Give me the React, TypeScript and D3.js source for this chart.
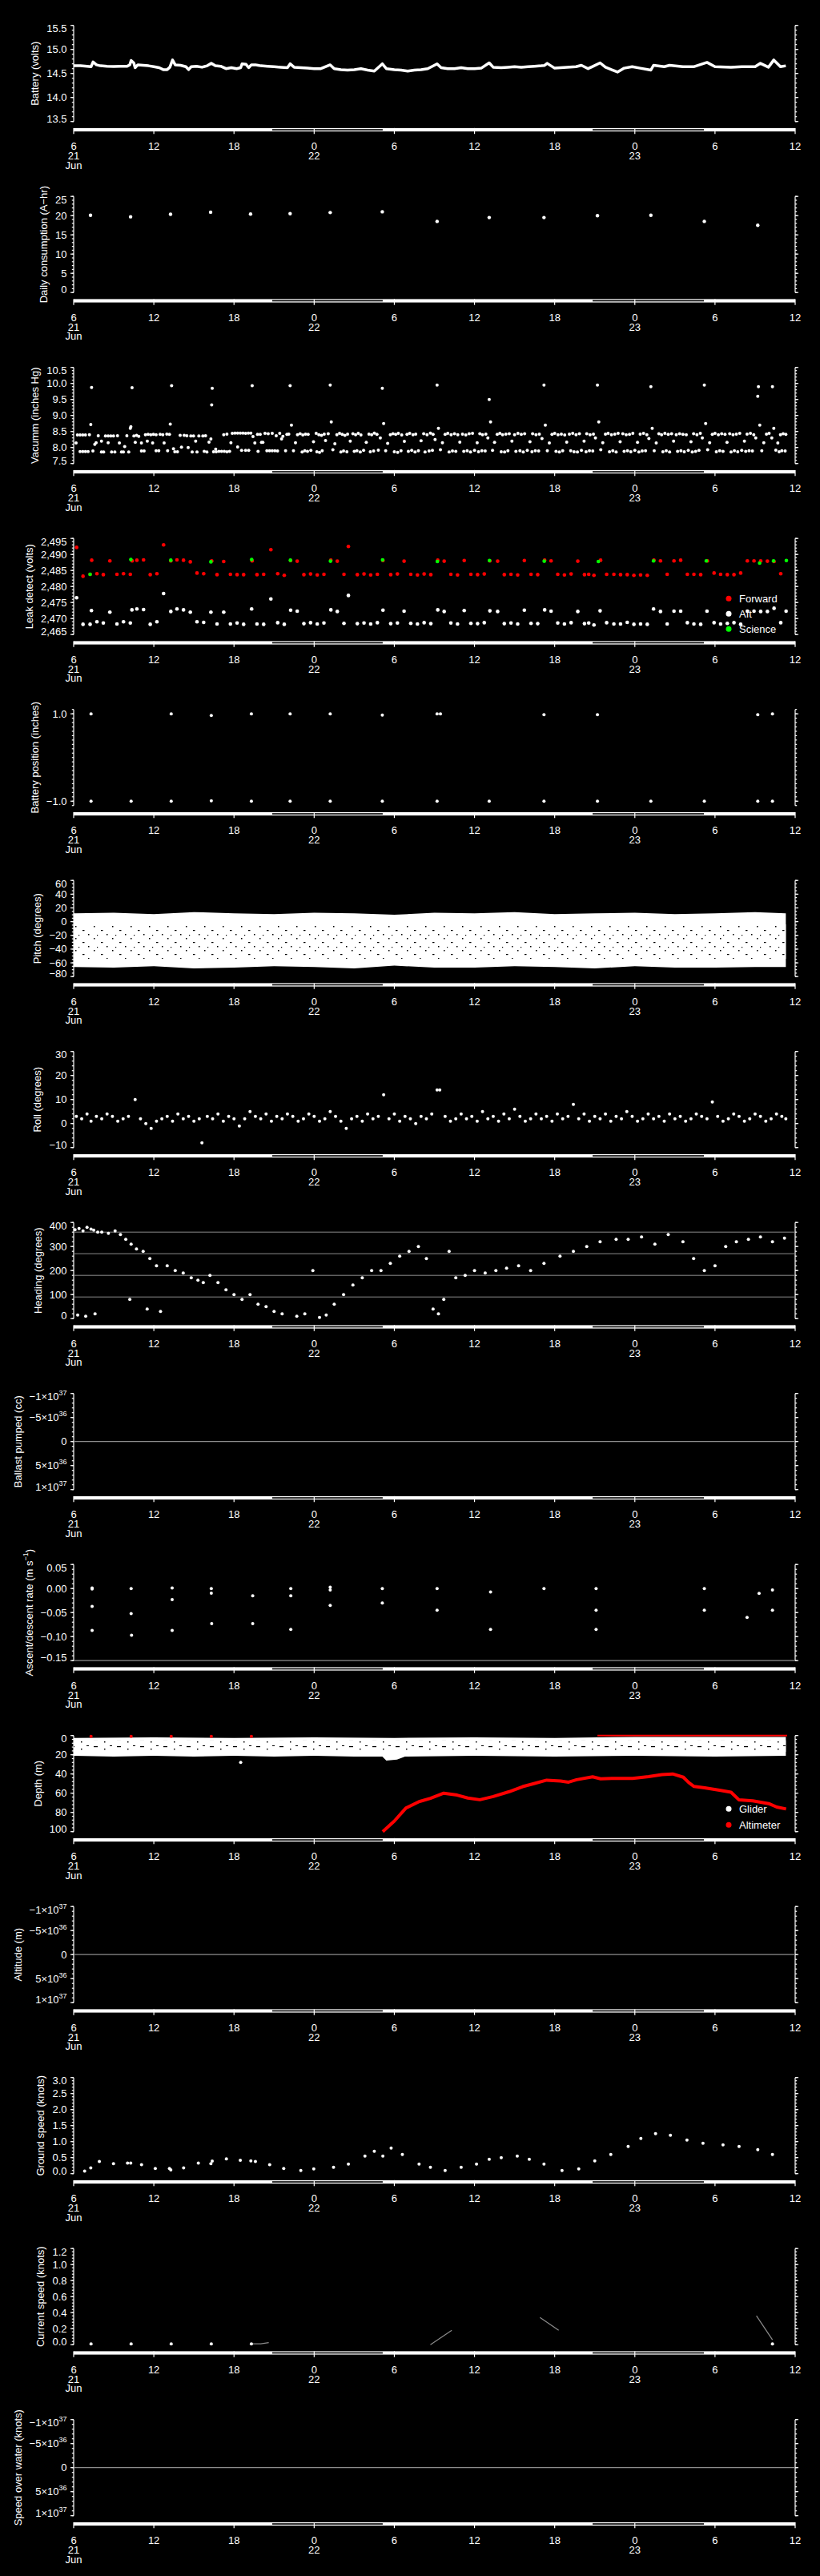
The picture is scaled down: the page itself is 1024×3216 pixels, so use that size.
import React from "react";
import * as d3 from "d3";

document.body.style.margin = "0";
document.body.style.background = "#000";

const FONT = "'Liberation Sans', Arial, Helvetica, sans-serif";
const FS = 13;

// ---------- time axis (hours since 21 Jun 00:00) ----------
const timeDomain = [6, 60];
const timeTicks = [6, 12, 18, 24, 30, 36, 42, 48, 54, 60];
const timeTickLabels = ["6", "12", "18", "0", "6", "12", "18", "0", "6", "12"];
const dayLabelHours = [6, 24, 48];
const dayLabels = ["21", "22", "23"];
const monthLabel = "Jun";
const nightSpans = [[20.86, 29.13], [44.84, 53.17]];

// ---------- data ----------
const batteryVolts = [
  [6, 14.66], [6.5, 14.66], [7, 14.65], [7.3, 14.64], [7.45, 14.74], [7.7, 14.68], [8, 14.66], [8.5, 14.65], [9, 14.645], [9.5, 14.65], [10, 14.65], [10.2, 14.68], [10.3, 14.77], [10.5, 14.72], [10.6, 14.62], [10.8, 14.68], [11.2, 14.67], [11.6, 14.66], [12, 14.64], [12.4, 14.62], [12.7, 14.58], [13, 14.58], [13.2, 14.63], [13.4, 14.78], [13.6, 14.68], [14, 14.67], [14.4, 14.64], [14.6, 14.58], [14.8, 14.64], [15.2, 14.65], [15.6, 14.63], [16, 14.66], [16.3, 14.71], [16.6, 14.66], [17, 14.65], [17.4, 14.6], [17.8, 14.62], [18.2, 14.6], [18.5, 14.62], [18.6, 14.7], [18.9, 14.69], [19.1, 14.62], [19.3, 14.68], [19.6, 14.68], [19.8, 14.67], [20, 14.66], [20.5, 14.65], [21, 14.64], [21.5, 14.63], [22, 14.62],
  [22.2, 14.7], [22.5, 14.63], [23, 14.62], [23.5, 14.61], [24, 14.6], [24.5, 14.6], [25.2, 14.68], [25.5, 14.6], [26, 14.58], [26.5, 14.57], [27, 14.58], [27.5, 14.6], [28, 14.57], [28.5, 14.55], [29.1, 14.7], [29.4, 14.6], [30, 14.58], [30.5, 14.57], [31, 14.55], [31.5, 14.57], [32, 14.58], [32.5, 14.6], [33.2, 14.7], [33.5, 14.62], [34, 14.6], [34.5, 14.6], [35, 14.62], [35.5, 14.6], [36, 14.6], [36.5, 14.61], [37.1, 14.72], [37.4, 14.63], [38, 14.62], [38.5, 14.63], [39, 14.64], [39.5, 14.63], [40, 14.64], [40.5, 14.65], [41, 14.66],
  [41.24, 14.667], [41.44, 14.71], [42.0, 14.61], [43.6, 14.64], [44.0, 14.67], [44.5, 14.6], [44.8, 14.64], [45.4, 14.72], [45.8, 14.63], [46.7, 14.53], [47.2, 14.61], [47.8, 14.64], [48.4, 14.61], [49.2, 14.57], [49.4, 14.67], [50.2, 14.64], [50.6, 14.67], [51.6, 14.64], [52.4, 14.64], [53.4, 14.73], [54.0, 14.64], [55.2, 14.63], [56.0, 14.64], [57.0, 14.64], [57.4, 14.71], [58.0, 14.63], [58.4, 14.78], [58.9, 14.64], [59.3, 14.66],
];

const dailyConsumption = [
  [7.26, 20.1], [10.26, 19.7], [13.25, 20.35], [16.25, 20.9], [19.24, 20.4], [22.2, 20.5], [25.2, 20.8], [29.1, 21], [33.2, 18.5], [37.1, 19.5], [41.2, 19.5], [45.2, 20], [49.2, 20.1], [53.2, 18.5], [57.2, 17.5],
];

const vacuumDay1 = [
  [6.18, 8.14], [6.28, 8.39], [6.48, 8.39], [6.68, 8.39], [6.88, 8.39], [7.18, 8.4], [6.48, 7.875], [6.68, 7.875], [6.88, 7.875], [7.08, 7.875], [7.28, 8.72], [7.34, 9.875], [7.44, 7.89], [7.58, 8.1], [7.68, 8.15], [7.84, 8.37], [8.08, 8.2], [8.08, 7.86], [8.24, 7.86], [8.38, 8.36], [8.58, 8.36], [8.78, 8.36], [8.98, 8.36], [9.28, 8.37], [8.58, 8.15], [8.84, 7.86], [9.08, 7.86], [9.42, 8.14], [9.58, 7.86], [9.72, 7.86], [9.82, 8.03], [9.98, 8.37], [10.12, 7.86], [10.24, 8.6], [10.28, 8.65], [10.37, 9.87], [10.51, 8.36], [10.71, 8.38], [10.87, 8.35], [10.61, 8.16], [11.07, 8.14], [11.07, 7.89], [11.27, 7.89], [11.37, 8.4], [11.57, 8.41], [11.77, 8.4], [11.97, 8.41], [12.17, 8.4], [12.47, 8.41], [12.67, 8.4], [12.97, 8.42], [13.17, 8.41], [11.51, 8.2], [11.91, 8.14], [12.17, 7.9], [12.37, 7.9], [12.77, 8.14], [13.03, 7.9], [13.23, 8.73], [13.33, 9.93], [13.47, 7.96], [13.57, 7.87], [13.77, 7.87], [14.07, 8.01], [13.97, 8.38], [14.27, 8.38], [14.47, 8.37], [14.77, 8.36], [14.97, 8.36], [14.57, 8.0], [14.87, 7.86], [15.23, 7.86], [15.13, 8.2], [15.37, 8.36], [15.67, 8.36], [15.87, 8.37], [15.77, 7.88], [15.97, 7.86], [16.13, 8.17], [16.27, 8.27], [16.33, 9.33], [16.37, 9.85], [16.63, 7.95], [16.47, 7.87], [16.67, 7.87], [16.87, 7.88], [17.07, 7.88], [17.27, 7.88], [17.47, 7.87], [17.67, 7.88], [17.23, 8.4], [17.47, 8.42], [17.77, 8.15], [17.87, 8.44], [18.07, 8.45], [18.27, 8.45], [18.47, 8.45], [18.67, 8.45], [18.87, 8.44], [19.07, 8.45], [19.26, 8.45], [18.27, 8.02], [18.57, 7.91], [18.87, 7.91], [19.1, 7.91], [19.36, 9.93], [19.42, 8.34], [19.56, 8.14], [19.76, 8.41], [19.96, 8.41], [19.8, 7.88], [20.06, 8.16], [20.16, 8.16], [20.32, 8.44], [20.46, 7.9], [20.66, 7.9], [20.86, 7.9], [21.06, 7.9], [21.26, 7.89], [20.56, 8.43], [20.86, 8.44], [21.16, 8.37], [21.42, 8.44], [21.56, 8.27], [21.66, 8.35], [21.86, 7.9], [21.96, 8.41],
];
const vacuumDay2 = [
  [22.1, 8.42], [22.2, 9.93], [22.3, 8.7], [22.45, 7.9], [22.6, 8.15], [22.75, 8.4], [22.95, 8.43], [23.15, 8.39], [23.35, 8.42], [23.55, 8.41], [23.1, 7.86], [23.3, 7.9], [23.5, 7.88], [23.75, 7.91], [23.95, 8.18], [24.15, 8.44], [24.35, 8.4], [24.55, 8.38], [24.75, 8.42], [24.2, 7.87], [24.4, 7.85], [24.6, 7.9], [24.85, 8.22], [25.05, 8.43], [25.2, 9.95], [25.28, 8.8], [25.4, 7.93], [25.55, 8.12], [25.7, 8.4], [25.9, 8.44], [26.1, 8.41], [26.3, 8.38], [26.5, 8.42], [26.0, 7.86], [26.2, 7.89], [26.45, 7.87], [26.7, 8.2], [26.9, 8.43], [27.1, 8.4], [27.3, 8.44], [27.5, 8.39], [27.0, 7.88], [27.2, 7.9], [27.45, 7.86], [27.7, 7.91], [27.9, 8.16], [28.1, 8.42], [28.3, 8.4], [28.5, 8.45], [28.7, 8.41], [28.2, 7.87], [28.45, 7.89], [28.8, 7.92], [28.95, 8.3], [29.1, 9.85], [29.2, 8.75], [29.35, 7.9], [29.5, 8.13], [29.7, 8.4], [29.9, 8.43], [30.1, 8.41], [30.3, 8.44], [30.55, 8.39], [30.0, 7.87], [30.25, 7.85], [30.5, 7.9], [30.75, 8.19], [30.95, 8.41], [31.15, 8.44], [31.4, 8.4], [31.6, 8.42], [31.05, 7.88], [31.3, 7.91], [31.55, 7.86], [31.8, 7.9], [32.0, 8.21], [32.2, 8.43], [32.45, 8.4], [32.7, 8.45], [32.9, 8.41], [32.3, 7.86], [32.6, 7.89], [32.85, 7.91], [33.05, 8.25], [33.2, 9.95], [33.3, 8.6], [33.45, 7.93], [33.6, 8.15], [33.8, 8.41], [34.0, 8.44], [34.25, 8.4], [34.5, 8.43], [34.75, 8.4], [34.1, 7.86], [34.35, 7.89], [34.6, 7.88], [34.9, 8.17], [35.1, 8.42], [35.35, 8.39], [35.6, 8.43], [35.85, 8.44], [35.2, 7.88], [35.45, 7.9], [35.7, 7.86], [36.0, 7.91], [36.2, 8.15], [36.4, 8.43], [36.6, 8.4], [36.85, 8.42], [36.3, 7.87], [36.55, 7.9], [36.8, 7.89], [37.0, 8.3], [37.1, 9.5], [37.2, 8.8], [37.35, 7.91], [37.5, 8.16], [37.7, 8.41], [37.9, 8.44], [38.1, 8.4], [38.35, 8.42], [38.6, 8.43], [38.0, 7.87], [38.25, 7.86], [38.5, 7.9], [38.8, 8.2], [39.0, 8.4], [39.25, 8.44], [39.5, 8.41], [39.75, 8.43], [39.1, 7.88], [39.4, 7.9], [39.65, 7.86], [39.95, 7.91], [40.15, 8.18], [40.35, 8.43], [40.6, 8.4], [40.85, 8.42], [40.3, 7.87], [40.55, 7.9], [40.8, 7.89], [41.05, 8.28], [41.2, 9.95], [41.3, 8.7], [41.45, 7.9], [41.6, 8.14], [41.8, 8.41], [42.0, 8.44], [42.25, 8.4], [42.5, 8.42], [42.75, 8.39], [42.1, 7.88], [42.35, 7.86], [42.6, 7.9], [42.9, 8.17], [43.1, 8.42], [43.35, 8.44], [43.6, 8.4], [43.85, 8.43], [43.2, 7.9], [43.45, 7.87], [43.7, 7.86], [44.0, 7.91], [44.2, 8.2], [44.4, 8.43], [44.65, 8.4], [44.9, 8.42], [44.35, 7.87], [44.6, 7.9], [44.85, 7.89],
];
const vacuumDay3 = [
  [45.05, 8.3], [45.2, 9.95], [45.3, 8.8], [45.45, 7.93], [45.6, 8.15], [45.8, 8.42], [46.0, 8.44], [46.25, 8.4], [46.5, 8.42], [46.75, 8.44], [46.1, 7.87], [46.35, 7.9], [46.6, 7.86], [46.9, 8.18], [47.1, 8.43], [47.35, 8.4], [47.6, 8.41], [47.85, 8.44], [47.2, 7.88], [47.45, 7.9], [47.7, 7.87], [48.0, 7.91], [48.2, 8.16], [48.4, 8.42], [48.65, 8.44], [48.9, 8.4], [48.3, 7.86], [48.55, 7.89], [48.8, 7.9], [49.05, 8.28], [49.2, 9.9], [49.3, 8.6], [49.45, 7.9], [49.6, 8.14], [49.8, 8.43], [50.0, 8.4], [50.25, 8.44], [50.5, 8.41], [50.75, 8.43], [50.1, 7.87], [50.35, 7.9], [50.6, 7.86], [50.9, 8.2], [51.1, 8.4], [51.35, 8.43], [51.6, 8.41], [51.85, 8.4], [51.2, 7.88], [51.45, 7.9], [51.7, 7.87], [52.0, 7.91], [52.2, 8.18], [52.4, 8.43], [52.65, 8.4], [52.9, 8.44], [52.3, 7.86], [52.55, 7.88], [52.8, 7.91], [53.05, 8.3], [53.2, 9.95], [53.3, 8.75], [53.45, 7.93], [53.6, 8.15], [53.8, 8.41], [54.0, 8.44], [54.25, 8.4], [54.5, 8.43], [54.75, 8.41], [54.1, 7.87], [54.35, 7.9], [54.6, 7.88], [54.9, 8.16], [55.1, 8.43], [55.35, 8.4], [55.6, 8.42], [55.85, 8.44], [55.2, 7.86], [55.45, 7.9], [55.7, 7.87], [56.0, 7.91], [56.2, 8.2], [56.4, 8.42], [56.65, 8.44], [56.9, 8.4], [56.3, 7.88], [56.55, 7.9], [56.8, 7.89], [57.05, 8.3], [57.2, 9.6], [57.25, 9.9], [57.35, 8.7], [57.5, 7.9], [57.65, 8.15], [57.85, 8.42], [58.05, 8.44], [58.25, 8.3], [58.3, 9.9], [58.4, 8.6], [58.55, 7.92], [58.7, 8.14], [58.9, 8.4], [59.1, 8.43], [59.3, 8.41], [58.8, 7.87], [59.0, 7.9], [59.25, 7.89],
];

const leakForward = [
  [6.22, 2.4922], [6.7, 2.4832], [7.35, 2.4882], [7.23, 2.4838], [7.74, 2.484], [8.22, 2.4837], [8.71, 2.488], [9.24, 2.4838], [9.73, 2.484], [10.24, 2.4838], [10.38, 2.488], [10.73, 2.4882], [11.23, 2.4883], [11.73, 2.4837], [12.23, 2.484], [12.73, 2.493], [13.27, 2.488], [13.73, 2.4883], [14.22, 2.4882], [14.73, 2.4877], [15.23, 2.4842], [15.73, 2.484], [16.33, 2.488], [16.73, 2.4837], [17.23, 2.4878], [17.73, 2.4838], [18.23, 2.4837], [18.72, 2.4837], [19.36, 2.488], [19.72, 2.4837], [20.22, 2.4838], [20.76, 2.4915], [21.27, 2.484], [21.76, 2.4835],
  [22.24, 2.4881], [22.73, 2.4879], [23.23, 2.4837], [23.73, 2.4839], [24.23, 2.4836], [24.73, 2.4838], [25.25, 2.4882], [25.73, 2.4879], [26.23, 2.4838], [26.56, 2.4925], [27.23, 2.4837], [27.73, 2.4839], [28.23, 2.4836], [28.73, 2.4838], [29.15, 2.4881], [29.73, 2.4837], [30.23, 2.4839], [30.73, 2.4879], [31.23, 2.4838], [31.73, 2.4836], [32.23, 2.4839], [32.73, 2.4837], [33.25, 2.4882], [33.73, 2.4879], [34.23, 2.4838], [34.73, 2.4836], [35.23, 2.4881], [35.73, 2.4838], [36.23, 2.4837], [36.73, 2.4839], [37.15, 2.488], [37.73, 2.4879], [38.23, 2.4837], [38.73, 2.4838], [39.23, 2.4836], [39.73, 2.4881], [40.23, 2.4838], [40.73, 2.4837], [41.25, 2.4882], [41.73, 2.488], [42.23, 2.4838], [42.73, 2.4836], [43.23, 2.4839], [43.73, 2.4879], [44.23, 2.4837], [44.55, 2.4838],
  [44.94, 2.4835], [45.44, 2.4882], [45.89, 2.4838], [46.43, 2.4838], [46.93, 2.4837], [47.43, 2.4837], [47.93, 2.4835], [48.43, 2.4836], [48.93, 2.4835], [49.43, 2.4882], [49.92, 2.488], [50.42, 2.4838], [50.93, 2.488], [51.43, 2.4882], [51.93, 2.4838], [52.42, 2.4838], [52.93, 2.4837], [53.43, 2.488], [53.93, 2.4842], [54.42, 2.4838], [54.92, 2.4837], [55.42, 2.4837], [55.92, 2.4842], [56.42, 2.488], [56.92, 2.488], [57.42, 2.488], [57.92, 2.4879], [58.42, 2.4878], [58.92, 2.484],
];
const leakAft = [
  [6.22, 2.4765], [6.7, 2.4682], [7.23, 2.4682], [7.33, 2.4725], [7.74, 2.469], [8.22, 2.4686], [8.71, 2.472], [9.24, 2.4683], [9.73, 2.469], [10.24, 2.4686], [10.36, 2.4727], [10.73, 2.473], [11.23, 2.4728], [11.73, 2.4682], [12.23, 2.469], [12.73, 2.4778], [13.27, 2.4722], [13.73, 2.473], [14.22, 2.4727], [14.73, 2.472], [15.23, 2.469], [15.73, 2.4688], [16.27, 2.472], [16.73, 2.4683], [17.23, 2.472], [17.73, 2.4683], [18.23, 2.4686], [18.72, 2.4682], [19.32, 2.473], [19.72, 2.4683], [20.22, 2.4682], [20.76, 2.4761], [21.27, 2.4687], [21.76, 2.4682],
  [22.24, 2.4726], [22.73, 2.4723], [23.23, 2.4684], [23.73, 2.4687], [24.23, 2.4683], [24.73, 2.4686], [25.25, 2.4727], [25.73, 2.4722], [26.23, 2.4685], [26.56, 2.4772], [27.23, 2.4684], [27.73, 2.4686], [28.23, 2.4683], [28.73, 2.4687], [29.15, 2.4726], [29.73, 2.4684], [30.23, 2.4686], [30.73, 2.4723], [31.23, 2.4685], [31.73, 2.4683], [32.23, 2.4687], [32.73, 2.4684], [33.25, 2.4727], [33.73, 2.4722], [34.23, 2.4686], [34.73, 2.4683], [35.23, 2.4725], [35.73, 2.4685], [36.23, 2.4684], [36.73, 2.4687], [37.15, 2.4724], [37.73, 2.4722], [38.23, 2.4684], [38.73, 2.4686], [39.23, 2.4683], [39.73, 2.4726], [40.23, 2.4685], [40.73, 2.4684], [41.25, 2.4727], [41.73, 2.4723], [42.23, 2.4686], [42.73, 2.4683], [43.23, 2.4687], [43.73, 2.4722], [44.23, 2.4684], [44.55, 2.4686],
  [44.94, 2.468], [45.4, 2.4724], [45.89, 2.4687], [46.43, 2.4683], [46.93, 2.4683], [47.43, 2.4688], [47.93, 2.4682], [48.43, 2.4683], [48.93, 2.4682], [49.4, 2.473], [49.92, 2.4722], [50.42, 2.4683], [50.93, 2.4723], [51.43, 2.4723], [51.93, 2.4687], [52.42, 2.4683], [52.93, 2.4682], [53.4, 2.4723], [53.93, 2.4687], [54.42, 2.4683], [54.92, 2.4685], [55.42, 2.4687], [55.92, 2.4682], [56.42, 2.4723], [56.92, 2.4723], [57.42, 2.4722], [57.92, 2.4722], [58.42, 2.4732], [58.92, 2.4687], [59.32, 2.4723],
];
const leakScience = [
  [7.23, 2.4838], [10.28, 2.4884], [13.27, 2.4882], [16.27, 2.4877], [19.32, 2.4884], [22.22, 2.4882], [25.22, 2.4879], [29.12, 2.4883], [33.22, 2.4878], [37.12, 2.4881], [41.22, 2.4879], [45.27, 2.4878], [49.4, 2.488], [53.35, 2.488], [57.34, 2.4873], [58.38, 2.488], [59.34, 2.4881],
];

const batteryPosition = [
  [7.3, 1.0], [13.3, 1.0], [16.3, 0.96], [19.3, 1.0], [22.2, 1.0], [25.2, 1.0], [29.1, 0.97], [33.2, 1.0], [33.45, 1.0], [41.2, 0.98], [45.2, 0.98], [57.2, 0.98], [58.3, 1.0],
  [7.3, -1.0], [10.3, -1.0], [13.3, -1.0], [16.3, -0.99], [19.3, -1.0], [22.2, -1.0], [25.2, -1.0], [29.1, -1.0], [33.2, -1.0], [37.1, -1.0], [41.2, -1.0], [45.2, -1.0], [49.2, -1.0], [53.2, -1.0], [57.2, -1.0], [58.3, -1.0],
];

const pitchUpper = [[6, 12], [9, 13], [12, 11], [15, 14], [18, 12], [21, 11], [24, 13], [27, 12], [30, 10], [33, 13], [36, 12], [39, 14], [42, 11], [45, 12], [48, 13], [51, 11], [54, 12], [57, 14], [59.3, 12]];
const pitchLower = [[6, -66], [9, -67], [12, -65], [15, -68], [18, -67], [21, -65], [24, -66], [27, -68], [30, -64], [33, -67], [36, -67], [39, -65], [42, -66], [45, -68], [48, -65], [51, -67], [54, -67], [57, -66], [59.3, -66]];
const pitchSpeckTop = [[6, -4], [59.3, -4]];
const pitchSpeckBottom = [[6, -54], [59.3, -54]];

const roll = [
  [6.2, 3], [6.6, 2], [7.0, 4], [7.3, 1], [7.7, 3], [8.1, 2], [8.5, 4], [8.9, 3], [9.3, 1], [9.7, 2], [10.1, 3], [10.6, 10], [11.0, 2], [11.4, 0], [11.8, -2], [12.2, 1], [12.6, 2], [13.0, 3], [13.4, 1], [13.8, 4], [14.2, 2], [14.6, 3], [15.0, 1], [15.4, 2], [15.6, -8], [16.0, 3], [16.4, 2], [16.8, 4], [17.2, 1], [17.6, 3], [18.0, 2], [18.4, -1], [18.8, 2], [19.2, 5], [19.6, 3], [20.0, 2], [20.4, 4], [20.8, 1], [21.2, 3], [21.6, 2], [22.0, 4], [22.4, 3], [22.8, 1], [23.2, 2], [23.6, 4], [24.0, 3], [24.4, 1], [24.8, 2], [25.2, 5], [25.6, 3], [26.0, 1], [26.4, -2], [26.8, 2], [27.2, 3], [27.6, 1], [28.0, 4], [28.4, 2], [28.8, 3], [29.2, 12], [29.6, 2], [30.0, 4], [30.4, 1], [30.8, 3], [31.2, 2], [31.6, 0], [32.0, 3], [32.4, 2], [32.8, 4], [33.2, 14], [33.4, 14], [33.8, 3], [34.2, 1], [34.6, 2], [35.0, 4], [35.4, 2], [35.8, 3], [36.2, 1], [36.6, 5], [37.0, 2], [37.4, 3], [37.8, 1], [38.2, 4], [38.6, 2], [39.0, 6], [39.4, 3], [39.8, 1], [40.2, 2], [40.6, 4], [41.0, 2], [41.4, 3], [41.8, 1], [42.2, 4], [42.6, 2], [43.0, 3], [43.4, 8], [43.8, 2], [44.2, 4], [44.6, 1], [45.0, 3], [45.4, 2], [45.8, 4], [46.2, 1], [46.6, 3], [47.0, 2], [47.4, 5], [47.8, 3], [48.2, 1], [48.6, 2], [49.0, 4], [49.4, 2], [49.8, 3], [50.2, 1], [50.6, 4], [51.0, 2], [51.4, 3], [51.8, 1], [52.2, 2], [52.6, 4], [53.0, 3], [53.4, 2], [53.8, 9], [54.2, 3], [54.6, 1], [55.0, 2], [55.4, 4], [55.8, 3], [56.2, 1], [56.6, 2], [57.0, 4], [57.4, 3], [57.8, 1], [58.2, 2], [58.6, 4], [59.0, 3], [59.3, 2],
];

const heading = [
  [6.1, 370], [6.4, 375], [6.7, 365], [7.0, 380], [7.3, 372], [7.5, 368], [7.8, 360], [6.3, 15], [6.9, 10], [7.6, 20],
  [8.1, 360], [8.6, 355], [9.1, 365], [9.5, 350], [9.9, 330], [10.3, 310], [10.7, 290], [10.2, 80],
  [11.2, 280], [11.7, 250], [12.2, 220], [11.5, 40], [12.5, 30], [13.0, 220], [13.6, 200], [14.2, 190], [14.8, 170], [15.3, 160], [15.7, 150],
  [16.2, 180], [16.8, 150], [17.4, 120], [18.0, 100], [18.6, 80], [19.2, 100], [19.8, 60], [20.4, 50], [21.0, 30], [21.6, 20],
  [22.7, 10], [23.3, 20], [23.9, 200], [24.4, 5], [24.9, 15], [25.5, 60], [26.2, 100], [26.9, 140], [27.6, 170], [28.3, 200],
  [29.0, 200], [29.7, 230], [30.4, 260], [31.1, 280], [31.8, 300], [32.4, 250], [32.9, 40], [33.3, 20], [33.7, 80], [34.1, 280],
  [34.6, 170], [35.3, 180], [36.0, 200], [36.8, 190], [37.6, 200], [38.4, 210], [39.3, 220], [40.2, 200], [41.2, 230],
  [42.4, 260], [43.4, 280], [44.4, 300], [45.4, 320], [46.6, 330], [47.5, 330], [48.5, 340], [49.5, 310], [50.5, 350], [51.6, 320],
  [52.4, 250], [53.2, 200], [54.0, 220], [54.8, 300], [55.6, 320], [56.5, 330], [57.4, 340], [58.3, 320], [59.2, 335],
];

const ascentRate = [
  [7.38, 0.001], [7.38, -0.001], [7.38, -0.037], [7.38, -0.087], [10.3, 0.0], [10.3, -0.052], [10.33, -0.097], [13.37, 0.001], [13.37, -0.023], [13.37, -0.087], [16.3, 0.0], [16.3, -0.0095], [16.33, -0.073], [19.4, -0.015], [19.4, -0.073],
  [22.25, 0.0], [22.25, -0.015], [22.25, -0.085], [25.2, 0.003], [25.2, -0.003], [25.2, -0.035], [29.1, 0.0], [29.1, -0.03], [33.2, 0.0], [33.2, -0.045], [37.2, -0.007], [37.2, -0.085], [41.2, 0.0], [45.1, 0.0], [45.1, -0.045], [45.1, -0.085], [53.2, 0.0], [53.2, -0.045], [56.4, -0.06], [57.3, -0.01], [58.3, -0.003], [58.3, -0.045],
];

const gliderUpper = [[6, 2.5], [12, 2], [18, 2.5], [24, 2], [30, 2.5], [36, 2], [42, 2.5], [48, 1.5], [54, 1.5], [59.3, 1.5]];
const gliderLower = [[6, 21], [9, 22], [12, 21], [15, 22], [18, 21], [21, 22], [24, 21], [27, 22], [29.1, 22], [29.4, 26], [30.2, 25], [30.8, 22], [36, 21], [42, 22], [48, 21], [54, 22], [59.3, 21]];
const gliderSpeckTop = [[6, 5], [59.3, 5]];
const gliderSpeckBottom = [[6, 17], [59.3, 17]];
const gliderOutliers = [[18.5, 28]];
const altimeter = [
  [29.13, 100], [30.0, 89], [30.86, 75.5], [31.85, 68.8], [32.7, 65.4], [33.7, 60], [34.7, 62], [35.5, 65], [36.4, 66.8], [37.4, 63.5], [38.6, 58.4], [39.6, 53.2], [40.5, 49.8], [41.4, 46.4], [42.44, 47.4], [43.04, 48.5], [43.64, 46], [44.84, 43], [45.44, 45], [46.44, 44.6], [47.83, 44.6], [49.03, 42.8], [50.03, 40.6], [50.83, 40], [51.63, 43.4], [52.03, 48.9], [52.43, 53], [53.23, 54.4], [54.43, 57.2], [55.2, 59], [55.8, 67], [56.82, 68], [57.42, 69.4], [58.02, 70.8], [58.62, 74.4], [59.32, 76.4],
];
const altimeterSurface = [[7.3, 0], [10.3, 0], [13.3, 0], [16.3, 0], [19.3, 0]];
const altimeterZeroSpan = [[45.2, 0], [59.4, 0]];

const groundSpeed = [
  [6.82, 0.08], [7.28, 0.18], [7.92, 0.38], [8.98, 0.31], [10.03, 0.33], [10.27, 0.33], [11.08, 0.28], [12.11, 0.16], [13.17, 0.16], [13.27, 0.12], [14.23, 0.18], [15.33, 0.33], [16.27, 0.31], [16.37, 0.39], [17.43, 0.46], [18.47, 0.42], [19.26, 0.4], [19.6, 0.38], [20.67, 0.28], [21.72, 0.16],
  [23.0, 0.1], [23.97, 0.15], [25.45, 0.2], [26.56, 0.3], [27.8, 0.55], [28.5, 0.7], [29.14, 0.55], [29.76, 0.8], [30.6, 0.6], [31.85, 0.3], [32.7, 0.2], [33.8, 0.1], [35.0, 0.2], [36.15, 0.3], [37.1, 0.45], [38.0, 0.5], [39.2, 0.55], [40.1, 0.45], [41.2, 0.3], [42.55, 0.1], [43.8, 0.15], [45.0, 0.4], [46.2, 0.6], [47.5, 0.85], [48.45, 1.1], [49.55, 1.25], [50.66, 1.2], [51.9, 1.05], [53.1, 0.95], [54.6, 0.9], [55.8, 0.85], [57.2, 0.75], [58.3, 0.6],
];
const currentSpeedDots = [[7.3, 0.01], [10.3, 0.01], [13.3, 0.01], [16.3, 0.01], [19.3, 0.01], [58.3, 0.01]];
const currentSpeedLines = [
  [[19.3, 0.01], [20.0, 0.01], [20.6, 0.025]],
  [[32.7, 0.0], [34.3, 0.18]],
  [[40.9, 0.34], [42.3, 0.18]],
  [[57.1, 0.36], [58.3, 0.06]],
];

// ---------- panel definitions ----------
type Lab = { main: string; sup?: string };
const f1 = (v: number): Lab => ({ main: d3.format(".1f")(v).replace("-", "−") });
const f0 = (v: number): Lab => ({ main: d3.format("d")(v).replace("-", "−") });
const f2 = (v: number): Lab => ({ main: d3.format(".2f")(v).replace("-", "−") });
const fLeak = (v: number): Lab => ({ main: d3.format(".3f")(v).replace(".", ",") });
const fSci = (v: number): Lab => {
  if (v === 0) return { main: "0" };
  const e = Math.floor(Math.log10(Math.abs(v)) + 1e-9);
  const m = Math.round(v / Math.pow(10, e));
  return { main: `${m < 0 ? "−" : ""}${Math.abs(m)}×10`, sup: String(e) };
};

const sciTicks = [-1e37, -5e36, 0, 5e36, 1e37];

const panels = [
  { title: "Battery (volts)", domain: [13.5, 15.5], ticks: [13.5, 14, 14.5, 15, 15.5], minor: 0.1, fmt: f1 },
  { title: "Daily consumption (A−hr)", domain: [0, 25], ticks: [0, 5, 10, 15, 20, 25], minor: 1, fmt: f0 },
  { title: "Vacumm (inches Hg)", domain: [7.5, 10.5], ticks: [7.5, 8, 8.5, 9, 9.5, 10, 10.5], minor: 0.1, fmt: f1 },
  { title: "Leak detect (volts)", domain: [2.465, 2.495], ticks: [2.465, 2.47, 2.475, 2.48, 2.485, 2.49, 2.495], minor: 0.001, fmt: fLeak },
  { title: "Battery position (inches)", domain: [-1.1, 1.1], ticks: [-1, 1], minor: 0.1, fmt: f1 },
  { title: "Pitch (degrees)", domain: [-80, 60], ticks: [-80, -60, -40, -20, 0, 20, 40, 60], minor: 5, fmt: f0 },
  { title: "Roll (degrees)", domain: [-10, 30], ticks: [-10, 0, 10, 20, 30], minor: 2, fmt: f0 },
  { title: "Heading (degrees)", domain: [0, 400], ticks: [0, 100, 200, 300, 400], minor: 20, fmt: f0 },
  { title: "Ballast pumped (cc)", domain: [-1e37, 1e37], reversed: true, ticks: sciTicks, minor: 1e36, fmt: fSci },
  { title: "Ascent/descent rate (m s", titleSup: "−1", titleEnd: ")", domain: [-0.15, 0.05], ticks: [-0.15, -0.1, -0.05, 0, 0.05], minor: 0.01, fmt: f2 },
  { title: "Depth (m)", domain: [0, 100], reversed: true, ticks: [0, 20, 40, 60, 80, 100], minor: 4, fmt: f0 },
  { title: "Altitude (m)", domain: [-1e37, 1e37], reversed: true, ticks: sciTicks, minor: 1e36, fmt: fSci },
  { title: "Ground speed (knots)", domain: [0, 3], ticks: [0, 0.5, 1, 1.5, 2, 2.5, 3], minor: 0.1, fmt: f1 },
  { title: "Current speed (knots)", domain: [0, 1.2], ticks: [0, 0.2, 0.4, 0.6, 0.8, 1, 1.2], minor: 0.04, fmt: f1 },
  { title: "Speed over water (knots)", domain: [-1e37, 1e37], reversed: true, ticks: sciTicks, minor: 1e36, fmt: fSci },
];

// ---------- layout ----------
const LEFT = 92;
const RIGHT = 993;
const TOP0 = 31.7;
const STEP = 213.5;
const PH = 120;

let ctx: CanvasRenderingContext2D | null = null;
function textW(s: string, size = FS) {
  if (!ctx) ctx = document.createElement("canvas").getContext("2d");
  if (!ctx) return s.length * size * 0.55;
  ctx.font = `${size}px ${FONT}`;
  return ctx.measureText(s).width;
}
const labW = (l: Lab) => textW(l.main) + (l.sup ? textW(l.sup, 9) : 0);

const W = "#fff";
const GREY = "#8c8c8c";

function Dots({ data, x, y, r = 2, fill = W }: any) {
  return (
    <g fill={fill}>
      {data.map((d: number[], k: number) => (
        <circle key={k} cx={x(d[0])} cy={y(d[1])} r={r} />
      ))}
    </g>
  );
}

function Marks({ i, x, y, top }: any) {
  const line = d3.line<number[]>().x((d) => x(d[0])).y((d) => y(d[1]));
  const area = (up: number[][], lo: number[][]) => {
    const lower = [...lo].reverse();
    return "M" + up.map((d) => `${x(d[0])},${y(d[1])}`).join("L") + "L" + lower.map((d) => `${x(d[0])},${y(d[1])}`).join("L") + "Z";
  };
  switch (i) {
    case 0:
      return <path d={line(batteryVolts) || ""} fill="none" stroke={W} strokeWidth={3.5} strokeLinejoin="round" />;
    case 1:
      return <Dots data={dailyConsumption} x={x} y={y} r={2.2} />;
    case 2:
      return (
        <g>
          <Dots data={vacuumDay1} x={x} y={y} r={2} />
          <Dots data={vacuumDay2} x={x} y={y} r={2} />
          <Dots data={vacuumDay3} x={x} y={y} r={2} />
        </g>
      );
    case 3:
      return (
        <g>
          <Dots data={leakAft} x={x} y={y} r={2.3} />
          <Dots data={leakForward} x={x} y={y} r={2.3} fill="#f00" />
          <Dots data={leakScience} x={x} y={y} r={2.3} fill="#0f0" />
          {[["Forward", "#f00"], ["Aft", W], ["Science", "#0f0"]].map(([t, c], k) => (
            <g key={t}>
              <circle cx={910} cy={top + 75 + k * 19} r={3.5} fill={c} />
              <text x={923} y={top + 75 + k * 19 + 4.5} fill={W} fontSize={FS}>{t}</text>
            </g>
          ))}
        </g>
      );
    case 4:
      return <Dots data={batteryPosition} x={x} y={y} r={2} />;
    case 5:
      return (
        <g>
          <path d={area(pitchUpper, pitchLower)} fill={W} />
          <path d={area(pitchSpeckTop, pitchSpeckBottom)} fill="url(#speck)" />
        </g>
      );
    case 6:
      return <Dots data={roll} x={x} y={y} r={2} />;
    case 7:
      return (
        <g>
          {[90, 180, 270, 360].map((v) => (
            <line key={v} x1={LEFT} x2={RIGHT} y1={y(v)} y2={y(v)} stroke={GREY} strokeWidth={1} />
          ))}
          <Dots data={heading} x={x} y={y} r={2} />
        </g>
      );
    case 8:
    case 11:
    case 14:
      return <line x1={LEFT} x2={RIGHT} y1={y(0)} y2={y(0)} stroke={GREY} strokeWidth={1.2} />;
    case 9:
      return (
        <g>
          <line x1={LEFT} x2={RIGHT} y1={y(-0.15)} y2={y(-0.15)} stroke={GREY} strokeWidth={1.2} />
          <Dots data={ascentRate} x={x} y={y} r={2} />
        </g>
      );
    case 10:
      return (
        <g>
          <path d={area(gliderUpper, gliderLower)} fill={W} />
          <path d={area(gliderSpeckTop, gliderSpeckBottom)} fill="url(#speck2)" />
          <Dots data={gliderOutliers} x={x} y={y} r={2} />
          <path d={line(altimeterZeroSpan) || ""} stroke="#f00" strokeWidth={2} />
          <Dots data={altimeterSurface} x={x} y={(v: number) => y(v) + 1} r={2} fill="#f00" />
          <path d={line(altimeter) || ""} fill="none" stroke="#f00" strokeWidth={4} strokeLinejoin="round" />
          {[["Glider", W], ["Altimeter", "#f00"]].map(([t, c], k) => (
            <g key={t}>
              <circle cx={910} cy={top + 91.5 + k * 20} r={3.5} fill={c} />
              <text x={923} y={top + 91.5 + k * 20 + 4.5} fill={W} fontSize={FS}>{t}</text>
            </g>
          ))}
        </g>
      );
    case 12:
      return <Dots data={groundSpeed} x={x} y={y} r={2} />;
    case 13:
      return (
        <g>
          {currentSpeedLines.map((l, k) => (
            <path key={k} d={line(l) || ""} fill="none" stroke={GREY} strokeWidth={1.2} />
          ))}
          <Dots data={currentSpeedDots} x={x} y={y} r={2} />
        </g>
      );
  }
  return null;
}

function Panel({ i, p, x }: any) {
  const top = TOP0 + i * STEP;
  const bot = top + PH;
  const y = d3.scaleLinear().domain(p.domain).range(p.reversed ? [top, bot] : [bot, top]);
  const [d0, d1] = p.domain;
  const nMin = Math.round((d1 - d0) / p.minor);
  const minors = d3.range(nMin + 1).map((k: number) => d0 + k * p.minor);
  const labels: Lab[] = p.ticks.map(p.fmt);
  const maxW = Math.max(...labels.map(labW));
  const labRight = LEFT - 8.5;
  const titleX = labRight - maxW - 10;
  const cy = (top + bot) / 2;
  const barY = top + 128.2;
  return (
    <g>
      <g stroke={W} strokeWidth={1.2}>
        <line x1={LEFT} x2={LEFT} y1={top} y2={bot} />
        <line x1={RIGHT} x2={RIGHT} y1={top} y2={bot} />
        {minors.map((v: number, k: number) => (
          <g key={k}>
            <line x1={LEFT - 2.2} x2={LEFT} y1={y(v)} y2={y(v)} />
            <line x1={RIGHT} x2={RIGHT + 2.2} y1={y(v)} y2={y(v)} />
          </g>
        ))}
        {p.ticks.map((v: number, k: number) => (
          <g key={"M" + k}>
            <line x1={LEFT - 4} x2={LEFT} y1={y(v)} y2={y(v)} />
            <line x1={RIGHT} x2={RIGHT + 4} y1={y(v)} y2={y(v)} />
          </g>
        ))}
      </g>
      <g fill={W} fontSize={FS} textAnchor="end">
        {p.ticks.map((v: number, k: number) => {
          const yy = Math.max(top + 4, Math.min(bot - 3.5, y(v))) + 4.5;
          const l = labels[k];
          return (
            <text key={k} x={labRight} y={yy}>
              {l.main}
              {l.sup ? <tspan fontSize={9} dy={-6}>{l.sup}</tspan> : null}
            </text>
          );
        })}
      </g>
      <text x={titleX} y={cy} transform={`rotate(-90 ${titleX} ${cy})`} textAnchor="middle" fill={W} fontSize={FS}>
        {p.title}
        {p.titleSup ? <tspan fontSize={9} dy={-6}>{p.titleSup}</tspan> : null}
        {p.titleEnd ? <tspan dy={6}>{p.titleEnd}</tspan> : null}
      </text>
      <Marks i={i} x={x} y={y} top={top} />
      <rect x={LEFT} y={barY} width={RIGHT - LEFT} height={4.2} fill={W} />
      {nightSpans.map(([a, b], k) => (
        <rect key={k} x={x(a)} y={barY + 1.3} width={x(b) - x(a)} height={1.6} fill="#000" />
      ))}
      <g stroke={W} strokeWidth={1.2}>
        {timeTicks.map((t, k) => (
          <line key={k} x1={x(t)} x2={x(t)} y1={barY} y2={barY + 7.3} />
        ))}
      </g>
      <g fill={W} fontSize={FS} textAnchor="middle">
        {timeTicks.map((t, k) => (
          <text key={k} x={x(t)} y={top + 155.5}>{timeTickLabels[k]}</text>
        ))}
        {dayLabelHours.map((t, k) => (
          <text key={"d" + k} x={x(t)} y={top + 167.3}>{dayLabels[k]}</text>
        ))}
        <text x={x(dayLabelHours[0])} y={top + 179}>{monthLabel}</text>
      </g>
    </g>
  );
}

export default function App() {
  const x = d3.scaleLinear().domain(timeDomain).range([LEFT, RIGHT]);
  return (
    <svg width={1024} height={3216} style={{ display: "block", background: "#000" }} fontFamily={FONT}>
      <defs>
        <pattern id="speck" width={23} height={15} patternUnits="userSpaceOnUse">
          <rect width={23} height={15} fill="#fff" />
          <rect x={2} y={1} width={1.5} height={1.5} fill="#000" />
          <rect x={11} y={6} width={2.5} height={1.2} fill="#000" />
          <rect x={18} y={11} width={1.5} height={1.5} fill="#000" />
          <rect x={6} y={12} width={1.2} height={1.2} fill="#000" />
        </pattern>
        <pattern id="speck2" width={29} height={9} patternUnits="userSpaceOnUse">
          <rect width={29} height={9} fill="#fff" />
          <rect x={1} y={2} width={5} height={1.2} fill="#000" />
          <rect x={14} y={5} width={1.5} height={1.5} fill="#000" />
          <rect x={21} y={1} width={3} height={1} fill="#000" />
        </pattern>
      </defs>
      <rect width={1024} height={3216} fill="#000" />
      {panels.map((p, i) => (
        <Panel key={i} i={i} p={p} x={x} />
      ))}
    </svg>
  );
}
